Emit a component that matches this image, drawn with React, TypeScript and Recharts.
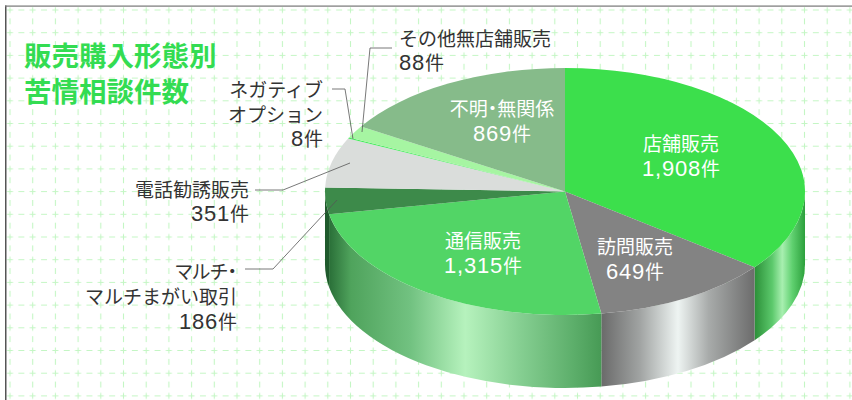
import React from 'react';
import { PieChart, Pie, Cell } from 'recharts';

const categories = ['店舗販売', '訪問販売', '通信販売', 'マルチ・マルチまがい取引', '電話勧誘販売', 'ネガティブオプション', 'その他無店舗販売', '不明・無関係'];
const counts = [1908, 649, 1315, 186, 351, 8, 88, 869];
const topColors = ['#3cdf4c', '#838383', '#52d566', '#3d8a4a', '#dadddb', '#45ea5c', '#a6f5a2', '#86bb8a'];
const wallFills = ['url(#wallStore)', 'url(#wallVisit)', 'url(#wallMail)', '#1f5a2c', '#999', '#3cdf4c', '#8d8', '#6a6'];

const pieData = categories.map((name, i) => ({ name, value: counts[i] }));

const W = 852;
const H = 400;
const CX = 565;
const CY = 191.5;
const RX = 240;
const RY = 123.5;
const DEPTH = 73;
const YSCALE = RY / RX;
const FONT = '"Noto Sans CJK JP", "Noto Sans", sans-serif';
const DIGIT_FONT = '"Liberation Sans", sans-serif';

const rad = (a: number) => (a * Math.PI) / 180;
// recharts angles are counter clockwise from 3 o'clock, svg y goes down
const px = (cx: number, r: number, a: number) => cx + r * Math.cos(rad(a));
const py = (cy: number, r: number, a: number) => cy - r * YSCALE * Math.sin(rad(a));

const TopSlice = (props: any) => {
  const { cx, cy, outerRadius: r, startAngle, endAngle, fill } = props;
  const large = Math.abs(startAngle - endAngle) > 180 ? 1 : 0;
  const d = `M${cx},${cy} L${px(cx, r, startAngle)},${py(cy, r, startAngle)} A${r},${r * YSCALE} 0 ${large} 1 ${px(cx, r, endAngle)},${py(cy, r, endAngle)} Z`;
  return <path d={d} fill={fill} />;
};

// side of the disc, only the part of the arc in the lower half of the ellipse shows
const WallSlice = (props: any) => {
  const { cx, cy, outerRadius: r, startAngle, endAngle, fill } = props;
  const from = Math.min(startAngle, 0);
  const to = Math.max(endAngle, -180);
  if (from <= to) return null;
  const x1 = px(cx, r, from);
  const y1 = py(cy, r, from);
  const x2 = px(cx, r, to);
  const y2 = py(cy, r, to);
  const ry = r * YSCALE;
  const d = `M${x1},${y1} A${r},${ry} 0 0 1 ${x2},${y2} L${x2},${y2 + DEPTH} A${r},${ry} 0 0 0 ${x1},${y1 + DEPTH} Z`;
  return <path d={d} fill={fill} />;
};

// digits in the scan are a larger latin face than the kanji next to them
const Label = ({ x, y, lines, anchor = 'middle', color = '#333', palt = false }: any) => (
  <text
    x={x}
    y={y}
    textAnchor={anchor}
    fontFamily={FONT}
    fontSize={19}
    fill={color}
    style={palt ? { fontFeatureSettings: '"palt"' } : undefined}
  >
    {lines.map((t: string, i: number) => (
      <tspan key={i} x={x} y={y + i * 24.5}>
        {t.split(/([\d,]+)/).map((part, j) =>
          /^[\d,]+$/.test(part) ? (
            <tspan key={j} fontFamily={DIGIT_FONT} fontSize={22} letterSpacing={0.8}>{part}</tspan>
          ) : (
            <tspan key={j}>{part}</tspan>
          )
        )}
      </tspan>
    ))}
  </text>
);

const n = (v: number) => `${v.toLocaleString('en-US')}件`;

const App = () => (
  <div style={{ position: 'relative', width: W, height: H, background: '#fff', overflow: 'hidden' }}>
    <style>{'body { margin: 0; }'}</style>
    <svg width={W} height={H} style={{ position: 'absolute', left: 0, top: 0 }}>
      <defs>
        <pattern id="grid" x="-1.35" y="-1.35" width="22.7" height="22.7" patternUnits="userSpaceOnUse">
          <path d="M8.3,11.35 h6 M0,11.35 h3 M19.7,11.35 h3 M11.35,8.3 v6 M11.35,0 v3 M11.35,19.7 v3" stroke="#c4f6c4" strokeWidth="1.1" fill="none" />
        </pattern>
      </defs>
      <rect x={6} y={7} width={W} height={H} fill="url(#grid)" />
    </svg>
    <div style={{ position: 'absolute', left: 0, top: 0 }}>
      <PieChart width={W} height={H} margin={{ top: 0, right: 0, bottom: 0, left: 0 }}>
        <defs>
          <linearGradient id="wallStore" x1="0" y1="0" x2="1" y2="0">
            <stop offset="0" stopColor="#2b8f38" />
            <stop offset="0.35" stopColor="#5cc96c" />
            <stop offset="0.55" stopColor="#a8efb0" />
            <stop offset="0.75" stopColor="#5fd06f" />
            <stop offset="1" stopColor="#2ca03c" />
          </linearGradient>
          <linearGradient id="wallVisit" x1="0" y1="0" x2="1" y2="0">
            <stop offset="0" stopColor="#6a6a6a" />
            <stop offset="0.25" stopColor="#a0a3a2" />
            <stop offset="0.5" stopColor="#eef4f2" />
            <stop offset="0.7" stopColor="#a8abaa" />
            <stop offset="1" stopColor="#6c6c6c" />
          </linearGradient>
          <linearGradient id="wallMail" x1="0" y1="0" x2="1" y2="0">
            <stop offset="0" stopColor="#2a6f38" />
            <stop offset="0.08" stopColor="#4fa35c" />
            <stop offset="0.3" stopColor="#72c281" />
            <stop offset="0.5" stopColor="#b6f2bd" />
            <stop offset="0.7" stopColor="#86cf92" />
            <stop offset="0.9" stopColor="#5cae6a" />
            <stop offset="1" stopColor="#479a55" />
          </linearGradient>
        </defs>
        <Pie data={pieData} dataKey="value" cx={CX} cy={CY} outerRadius={RX} startAngle={90} endAngle={-270} stroke="none" isAnimationActive={false} shape={WallSlice}>
          {pieData.map((d, i) => <Cell key={d.name} fill={wallFills[i]} />)}
        </Pie>
        <Pie data={pieData} dataKey="value" cx={CX} cy={CY} outerRadius={RX} startAngle={90} endAngle={-270} stroke="none" isAnimationActive={false} shape={TopSlice}>
          {pieData.map((d, i) => <Cell key={d.name} fill={topColors[i]} />)}
        </Pie>
      </PieChart>
    </div>
    <svg width={W} height={H} style={{ position: 'absolute', left: 0, top: 0 }}>
      <rect x={5} y={5.5} width={1.5} height={H} fill="#555" />
      <rect x={5} y={5.5} width={W} height={1.2} fill="#777" />

      <text x={24} y={66} fontFamily={FONT} fontWeight={700} fontSize={27.5} fill="#33dc52">販売購入形態別</text>
      <text x={24} y={102} fontFamily={FONT} fontWeight={700} fontSize={27.5} fill="#33dc52">苦情相談件数</text>

      <g fill="none" stroke="#555" strokeWidth={0.8}>
        <polyline points="392,48 370,48 362,132" />
        <polyline points="332,89 345,89 353,139" />
        <polyline points="255,190 283,190 350,163" />
        <polyline points="245,269 273,269 337,200" />
      </g>

      <Label x={399} y={46} anchor="start" lines={[categories[6]]} />
      <Label x={399} y={70} anchor="start" lines={[n(counts[6])]} />
      <Label x={323} y={97} anchor="end" lines={['ネガティブ', 'オプション', n(counts[5])]} />
      <Label x={249} y={197} anchor="end" lines={[categories[4]]} />
      <Label x={249} y={221} anchor="end" lines={[n(counts[4])]} />
      <Label x={237} y={279} anchor="end" palt lines={['マルチ・']} />
      <Label x={237} y={304} anchor="end" lines={['マルチまがい取引', n(counts[3])]} />

      <Label x={502} y={116} color="#fff" palt lines={[categories[7], n(counts[7])]} />
      <Label x={681} y={151} color="#fff" lines={[categories[0], n(counts[0])]} />
      <Label x={483} y={248} color="#fff" lines={[categories[2], n(counts[2])]} />
      <Label x={635} y={254} color="#fff" lines={[categories[1], n(counts[1])]} />
    </svg>
  </div>
);

export default App;
